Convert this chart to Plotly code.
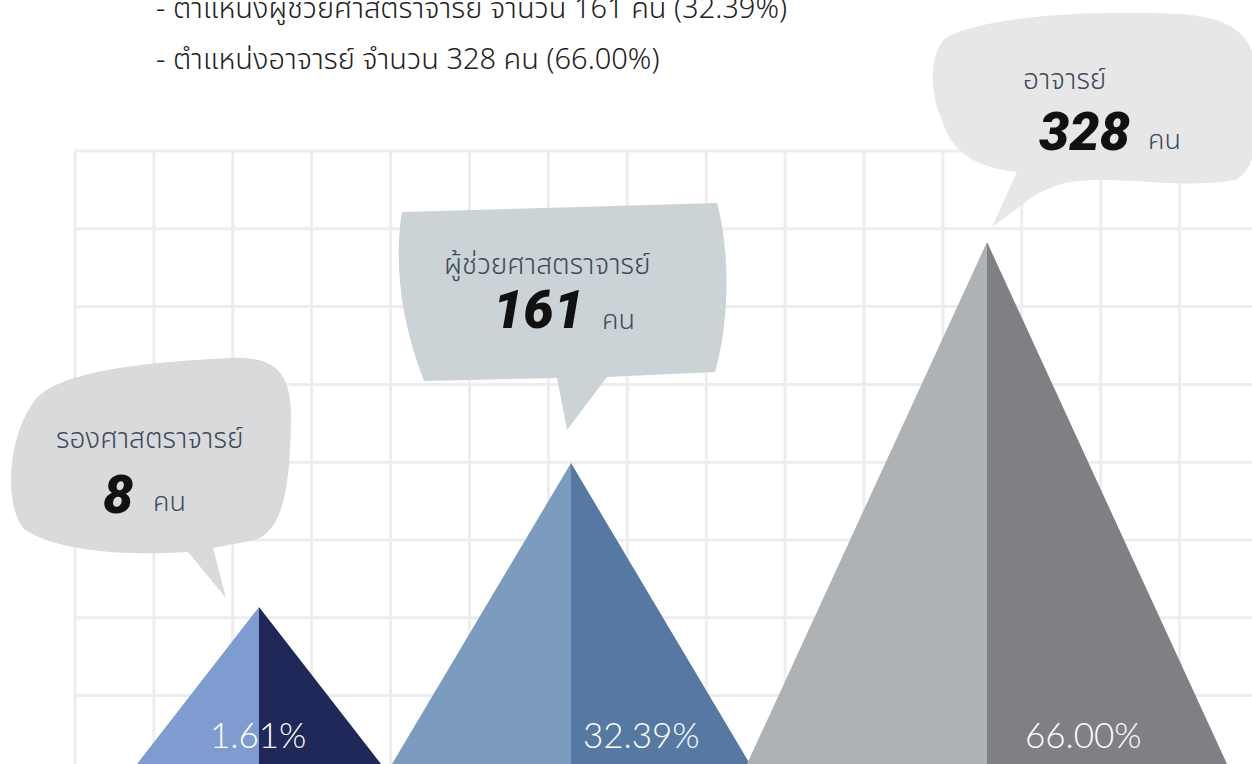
import plotly.graph_objects as go

# ---------------- data ----------------
positions = ["รองศาสตราจารย์", "ผู้ช่วยศาสตราจารย์", "อาจารย์"]
counts = [8, 161, 328]
percents = [1.61, 32.39, 66.00]
header_lines = [
    "- ตำแหน่งผู้ช่วยศาสตราจารย์ จำนวน 161 คน (32.39%)",
    "- ตำแหน่งอาจารย์ จำนวน 328 คน (66.00%)",
]
unit = "คน"

# ---------------- layout geometry (pixel canvas) ----------------
W, H = 1252, 764
centers = [259, 571, 987]          # pyramid apex x
peaks = [157, 301, 522]            # pyramid visual heights
half_widths = [122, 179, 240]      # half base width
left_colors = ["#7F9CD1", "#7B9BBF", "#AFB2B5"]
right_colors = ["#1F2858", "#5679A3", "#7F8084"]
bubble_colors = ["#D9DADC", "#CCD3D7", "#E7E7E8"]
text_col = "#3E4A5B"

THAI = "Noto Sans Thai, Noto Sans Thai Looped, Garuda, Loma, Noto Sans, sans-serif"


def Y(py):
    return H - py


fig = go.Figure()

# grid
gx0, gy0, gdx, gdy = 75, 151, 78.9, 77.8
xs, ys = [], []
k = 0
while gx0 + k * gdx < W + 5:
    x = gx0 + k * gdx
    xs += [x, x, None]
    ys += [Y(gy0), Y(H + 10), None]
    k += 1
k = 0
while gy0 + k * gdy < H + 5:
    yy = gy0 + k * gdy
    xs += [gx0, W + 10, None]
    ys += [Y(yy), Y(yy), None]
    k += 1
fig.add_trace(go.Scatter(x=xs, y=ys, mode="lines",
                         line=dict(color="#EDEDED", width=3),
                         hoverinfo="skip", showlegend=False))

# pyramids
for i, name in enumerate(positions):
    cx, h, hw = centers[i], peaks[i], half_widths[i]
    fig.add_trace(go.Scatter(x=[cx - hw, cx, cx, cx - hw], y=[0, h, 0, 0],
                             fill="toself", fillcolor=left_colors[i], mode="none",
                             hoverinfo="skip", showlegend=False, name=name))
    fig.add_trace(go.Scatter(x=[cx, cx, cx + hw, cx], y=[0, h, 0, 0],
                             fill="toself", fillcolor=right_colors[i], mode="none",
                             hoverinfo="skip", showlegend=False, name=name))


def path(cmds):
    out = []
    for c in cmds:
        if isinstance(c, str):
            out.append(c)
        else:
            out.append(f"{c[0]},{Y(c[1])}")
    return " ".join(out)


bubbles = [
    ["M", (35, 400), "C", (60, 370), (150, 362), (230, 358),
     "C", (275, 356), (292, 372), (291, 420),
     "C", (290, 480), (285, 530), (255, 540),
     "L", (213, 548), "L", (226, 598), "L", (188, 552),
     "C", (130, 556), (60, 552), (25, 530),
     "C", (5, 510), (5, 440), (35, 400), "Z"],
    ["M", (402, 212), "L", (717, 203),
     "C", (730, 250), (730, 320), (715, 372),
     "L", (607, 377), "L", (567, 430), "L", (557, 378), "L", (424, 381),
     "C", (400, 320), (394, 260), (402, 212), "Z"],
    ["M", (947, 37), "C", (990, 15), (1100, 10), (1180, 14),
     "C", (1240, 18), (1258, 40), (1258, 90),
     "C", (1260, 130), (1257, 170), (1235, 180),
     "C", (1180, 190), (1120, 175), (1070, 182),
     "C", (1045, 187), (1030, 198), (1022, 205),
     "L", (992, 227), "L", (1017, 172),
     "C", (980, 168), (952, 155), (942, 120),
     "C", (928, 90), (930, 50), (947, 37), "Z"],
]
for i, b in enumerate(bubbles):
    fig.add_shape(type="path", path=path(b), xref="x", yref="y",
                  fillcolor=bubble_colors[i], line=dict(width=0), layer="above")

# header text
header_y = [9, 60]
for txt, py in zip(header_lines, header_y):
    fig.add_annotation(x=154, y=Y(py), text=txt, showarrow=False,
                       xanchor="left", yanchor="middle",
                       font=dict(family=THAI, size=29, color="#222222", weight=300))

# bubble texts
title_pos = [(149, 439), (547, 265), (1064, 80)]
num_pos = [(118, 494), (538, 309), (1084, 131)]
unit_pos = [(151, 502), (600, 320), (1146, 140)]
for i in range(3):
    fig.add_annotation(x=title_pos[i][0], y=Y(title_pos[i][1]), text=positions[i],
                       showarrow=False, xanchor="center", yanchor="middle",
                       font=dict(family=THAI, size=28, color=text_col, weight=300))
    fig.add_annotation(x=num_pos[i][0], y=Y(num_pos[i][1]), text=str(counts[i]),
                       showarrow=False, xanchor="center", yanchor="middle",
                       font=dict(family="Roboto, DejaVu Sans", size=54, color="#111111",
                                 weight=900, style="italic"))
    fig.add_annotation(x=unit_pos[i][0], y=Y(unit_pos[i][1]), text=unit,
                       showarrow=False, xanchor="left", yanchor="middle",
                       font=dict(family=THAI, size=27, color=text_col, weight=300))

# percent labels
pct_x = [258, 641, 1083]
for i in range(3):
    fig.add_annotation(x=pct_x[i], y=Y(734), text=f"{percents[i]:.2f}%",
                       showarrow=False, xanchor="center", yanchor="middle",
                       font=dict(family="Lato, Inter, sans-serif", size=35,
                                 color="white", weight=300))

fig.update_layout(
    width=W, height=H, margin=dict(l=0, r=0, t=0, b=0),
    paper_bgcolor="white", plot_bgcolor="white",
    xaxis=dict(range=[0, W], visible=False, fixedrange=True),
    yaxis=dict(range=[0, H], visible=False, fixedrange=True),
    showlegend=False,
)

fig.write_html("out.html", config={"displayModeBar": False},
               post_script="document.body.style.margin='0';document.body.style.overflow='hidden';")
